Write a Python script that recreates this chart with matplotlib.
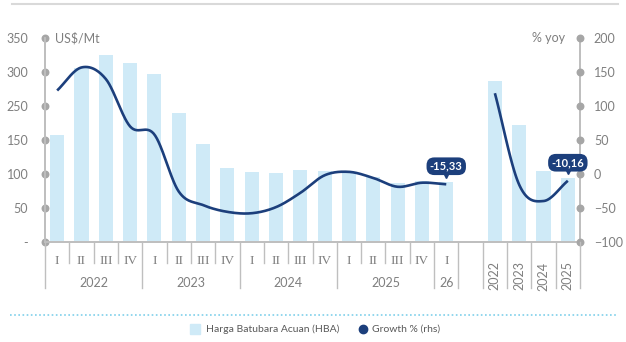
import numpy as np
import matplotlib.pyplot as plt
import matplotlib.transforms as mtransforms
from matplotlib.lines import Line2D

plt.rcParams['font.family'] = ['Lato', 'DejaVu Sans']

# ── data ─────────────────────────────────────────────
quarters = ['I', 'II', 'III', 'IV'] * 4 + ['I']
q_years = ['2022', '2023', '2024', '2025', '26']
years = ['2022', '2023', '2024', '2025']

hba_q = [157, 256, 275, 264, 248, 190, 144, 109, 103, 102, 106, 105, 102, 95, 86, 89, 88]
hba_y = [237, 172, 104, 94]
growth_q = [123, 157, 140, 70, 58, -26, -46, -56, -58, -49, -28, -2, 3, -6, -19, -13, -15.33]
growth_y = [119, -16, -40, -10.16]

left_ticks = [0, 50, 100, 150, 200, 250, 300]
left_labels = ['-', '50', '100', '150', '250', '300', '350']
right_ticks = [-100, -50, 0, 50, 100, 150, 200]

BAR = '#CFEAF7'
NAVY = '#1C3F7C'
GRID = '#BFBFBF'
DOT = '#A6A6A6'
TXT = '#7F7F7F'


def smooth(x, y, n=30):
    """Catmull-Rom curve through the points (like a smoothed line)."""
    x = np.asarray(x, float)
    y = np.asarray(y, float)
    px = np.concatenate([[2 * x[0] - x[1]], x, [2 * x[-1] - x[-2]]])
    py = np.concatenate([[2 * y[0] - y[1]], y, [2 * y[-1] - y[-2]]])
    t = np.linspace(0, 1, n)
    xs, ys = [], []
    for i in range(1, len(px) - 2):
        for p, out in ((px, xs), (py, ys)):
            p0, p1, p2, p3 = p[i - 1], p[i], p[i + 1], p[i + 2]
            out.append(0.5 * ((2 * p1) + (-p0 + p2) * t
                              + (2 * p0 - 5 * p1 + 4 * p2 - p3) * t**2
                              + (-p0 + 3 * p1 - 3 * p2 + p3) * t**3))
    return np.concatenate(xs), np.concatenate(ys)


xq = np.arange(len(hba_q))
xy = np.arange(len(hba_y)) + len(hba_q) + 1

fig = plt.figure(figsize=(6.26, 3.42), dpi=100)
ax = fig.add_axes([45 / 626, 100.3 / 342, 535 / 626, 203.4 / 342])
ax2 = ax.twinx()

ax.bar(xq, hba_q, width=0.58, color=BAR, zorder=2)
ax.bar(xy, hba_y, width=0.58, color=BAR, zorder=2)
ax.set_xlim(-0.5, 21.5)
ax.set_ylim(0, 300)
ax2.set_ylim(-100, 200)

sx, sy = smooth(xq, growth_q)
ax2.plot(sx, sy, color=NAVY, lw=1.9, solid_capstyle='butt', zorder=3)
sx, sy = smooth(xy, growth_y)
ax2.plot(sx, sy, color=NAVY, lw=1.9, solid_capstyle='butt', zorder=3)

# spines & ticks
for a in (ax, ax2):
    a.spines['top'].set_visible(False)
    for s in ('left', 'right', 'bottom'):
        a.spines[s].set_color(GRID)
        a.spines[s].set_linewidth(1.3)
    a.tick_params(length=0, colors=TXT, labelsize=9)
ax.set_xticks([])
ax.set_yticks(left_ticks)
ax.set_yticklabels(left_labels)
ax.tick_params(axis='y', pad=12)
ax2.set_yticks(right_ticks)
ax2.tick_params(axis='y', pad=10)
ax.scatter([-0.5] * len(left_ticks), left_ticks, s=22, color=DOT, clip_on=False, zorder=5)
ax2.scatter([21.5] * len(right_ticks), right_ticks, s=22, color=DOT, clip_on=False, zorder=5)

ax.text(-0.1, 300, 'US$/Mt', color=TXT, fontsize=9, va='center', ha='left')
ax2.text(20.9, 200, '% yoy', color=TXT, fontsize=9, va='center', ha='right')

# category axis below the plot
trans = mtransforms.blended_transform_factory(ax.transData, fig.transFigure)
y0 = 100.3 / 342
y_short = (342 - 263) / 342
y_long = (342 - 288) / 342
for k in range(len(quarters)):
    ax.text(k, (342 - 261) / 342, quarters[k], transform=trans, ha='center', va='center',
            color=TXT, fontsize=9.5, family=['Liberation Serif', 'DejaVu Serif'])
    if k % 4 != 3 and k < len(quarters) - 1:
        fig.add_artist(Line2D([k + 0.5, k + 0.5], [y0, y_short], transform=trans, color=GRID, lw=1))
for i, lab in enumerate(q_years):
    xc = 4 * i + 1.5 if lab != '26' else 16
    ax.text(xc, (342 - 283) / 342, lab, transform=trans, ha='center', va='center',
            color=TXT, fontsize=9)
for k, lab in zip(xy, years):
    ax.text(k, (342 - 276) / 342, lab, transform=trans, ha='center', va='center',
            rotation=90, color=TXT, fontsize=9)
for xb in [-0.5, 3.5, 7.5, 11.5, 15.5, 16.5, 17.5, 18.5, 19.5, 20.5, 21.5]:
    fig.add_artist(Line2D([xb, xb], [y0, y_long], transform=trans, color=GRID, lw=1))

# value callouts
for xv, v in [(xq[-1], growth_q[-1]), (xy[-1], growth_y[-1])]:
    lab = f'{v:.2f}'.replace('.', ',')
    tip = mtransforms.offset_copy(ax2.transData, fig=fig, x=0, y=7, units='points')
    ax2.plot([xv], [v], marker='v', ms=5, color=NAVY, transform=tip, clip_on=False, zorder=6)
    ax2.annotate(lab, (xv, v), xytext=(0, 13), textcoords='offset points',
                 ha='center', va='center', color='white', fontsize=8, fontweight='bold',
                 bbox=dict(boxstyle='round,pad=0.3,rounding_size=0.7', fc=NAVY, ec='none'),
                 zorder=7)

# top rule, dotted divider, legend
fig.add_artist(Line2D([12 / 626, 618 / 626], [338 / 342, 338 / 342], color='#D9D9D9', lw=1.5))
fig.add_artist(Line2D([10 / 626, 616 / 626], [27 / 342, 27 / 342], color='#7FD0EA',
                      lw=1.2, linestyle=(0, (1, 1.5))))
fig.add_artist(Line2D([195 / 626], [13 / 342], marker='s', ms=7, color=BAR, lw=0))
fig.text(206 / 626, 13 / 342, 'Harga Batubara Acuan (HBA)', color='#595959',
         fontsize=7.5, va='center')
fig.add_artist(Line2D([363 / 626], [13 / 342], marker='o', ms=6, color=NAVY, lw=0))
fig.text(372 / 626, 13 / 342, 'Growth % (rhs)', color='#595959', fontsize=7.5, va='center')

fig.savefig('out.png', dpi=100)
